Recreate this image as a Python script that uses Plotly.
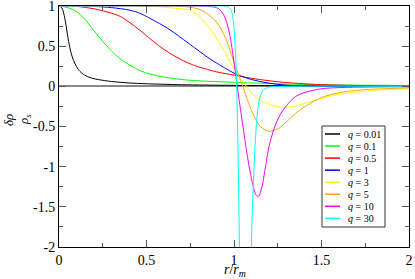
import plotly.graph_objects as go

# ---------------- data ----------------
q_labels = ["0.01", "0.1", "0.5", "1", "3", "5", "10", "30"]
colors = ["#000000", "#00ff00", "#ff0000", "#0000ff", "#ffff00", "#ffa500", "#ff00ff", "#00ffff"]

x_q001 = [0, 0.01, 0.02, 0.03, 0.04, 0.05, 0.06, 0.07, 0.08, 0.1, 0.12, 0.14, 0.17, 0.2, 0.25, 0.3, 0.4, 0.5, 0.7, 1.0, 1.5, 2.0]
y_q001 = [1.0, 0.99, 0.96, 0.88, 0.76, 0.62, 0.50, 0.41, 0.34, 0.245, 0.185, 0.148, 0.115, 0.095, 0.075, 0.06, 0.042, 0.032, 0.02, 0.012, 0.006, 0.004]

x_q01 = [0, 0.05, 0.1, 0.15, 0.2, 0.25, 0.3, 0.35, 0.4, 0.45, 0.5, 0.6, 0.7, 0.8, 1.0, 1.2, 1.5, 2.0]
y_q01 = [1.0, 0.98, 0.93, 0.83, 0.69, 0.56, 0.44, 0.34, 0.27, 0.21, 0.165, 0.115, 0.085, 0.068, 0.05, 0.035, 0.02, 0.01]

x_q05 = [0, 0.1, 0.2, 0.3, 0.35, 0.4, 0.45, 0.5, 0.55, 0.6, 0.65, 0.7, 0.75, 0.8, 0.85, 0.9, 1.0, 1.1, 1.2, 1.3, 1.5, 1.75, 2.0]
y_q05 = [1.0, 0.995, 0.965, 0.91, 0.87, 0.80, 0.72, 0.63, 0.54, 0.46, 0.39, 0.33, 0.28, 0.24, 0.21, 0.18, 0.14, 0.10, 0.07, 0.047, 0.021, 0.008, 0.004]

x_q1 = [0, 0.1, 0.2, 0.3, 0.4, 0.45, 0.5, 0.55, 0.6, 0.65, 0.7, 0.75, 0.8, 0.85, 0.9, 0.95, 1.0, 1.05, 1.1, 1.2, 1.3, 1.5, 1.75, 2.0]
y_q1 = [1.0, 1.0, 0.995, 0.98, 0.95, 0.92, 0.87, 0.81, 0.75, 0.68, 0.60, 0.52, 0.44, 0.36, 0.29, 0.225, 0.165, 0.12, 0.085, 0.04, 0.015, 0.0, -0.003, -0.002]

x_q3 = [0, 0.3, 0.5, 0.6, 0.65, 0.7, 0.75, 0.8, 0.85, 0.9, 0.95, 1.0, 1.05, 1.1, 1.15, 1.2, 1.25, 1.3, 1.35, 1.4, 1.5, 1.6, 1.7, 1.8, 2.0]
y_q3 = [1.0, 1.0, 0.995, 0.985, 0.975, 0.965, 0.95, 0.87, 0.75, 0.60, 0.42, 0.22, 0.06, -0.08, -0.17, -0.225, -0.252, -0.26, -0.245, -0.215, -0.15, -0.10, -0.07, -0.05, -0.03]

x_q5 = [0, 0.5, 0.7, 0.75, 0.8, 0.85, 0.9, 0.95, 1.0, 1.05, 1.1, 1.15, 1.2, 1.25, 1.3, 1.35, 1.4, 1.5, 1.6, 1.7, 1.8, 2.0]
y_q5 = [1.0, 1.0, 0.995, 0.985, 0.96, 0.90, 0.80, 0.61, 0.30, 0.0, -0.30, -0.50, -0.56, -0.53, -0.44, -0.34, -0.26, -0.14, -0.08, -0.05, -0.035, -0.02]

x_q10 = [0, 0.7, 0.85, 0.9, 0.925, 0.95, 0.975, 1.0, 1.025, 1.05, 1.075, 1.1, 1.125, 1.14, 1.16, 1.18, 1.2, 1.23, 1.26, 1.3, 1.35, 1.4, 1.5, 1.7, 2.0]
y_q10 = [1.0, 1.0, 0.995, 0.98, 0.94, 0.85, 0.65, 0.30, -0.10, -0.48, -0.85, -1.15, -1.35, -1.37, -1.25, -1.0, -0.75, -0.52, -0.37, -0.24, -0.13, -0.08, -0.03, -0.01, -0.005]

x_q30 = [0, 0.9, 0.96, 0.98, 0.99, 1.0, 1.01, 1.02, 1.03, 1.035, 1.05, 1.07, 1.09, 1.1, 1.11, 1.12, 1.13, 1.14, 1.15, 1.17, 1.2, 1.3, 2.0]
y_q30 = [1.0, 1.0, 0.995, 0.96, 0.9, 0.72, 0.35, -0.45, -1.8, -2.5, -3.8, -4.2, -3.0, -1.9, -1.25, -0.76, -0.42, -0.22, -0.12, -0.04, -0.01, 0.0, 0.0]

series_x = [x_q001, x_q01, x_q05, x_q1, x_q3, x_q5, x_q10, x_q30]
series_y = [y_q001, y_q01, y_q05, y_q1, y_q3, y_q5, y_q10, y_q30]

x_tickvals = [0, 0.5, 1, 1.5, 2]
x_ticktext = ["0", "0.5", "1", "1.5", "2"]
y_tickvals = [-2, -1.5, -1, -0.5, 0, 0.5, 1]
y_ticktext = ["-2", "-1.5", "-1", "-0.5", "0", "0.5", "1"]

# ---------------- figure ----------------
FONT = "Liberation Serif"
fig = go.Figure()
for xs, ys, c, q in zip(series_x, series_y, colors, q_labels):
    fig.add_trace(go.Scatter(x=xs, y=ys, mode="lines", name="q = " + q,
                             line=dict(color=c, width=1, shape="spline", smoothing=0.8),
                             showlegend=False))

W, H = 415, 279
ml, mr, mt, mb = 59, 6, 6, 32
pw, ph = W - ml - mr, H - mt - mb

def px2paper_x(px):
    return (px - ml) / pw

def px2paper_y(py):
    return (H - mb - py) / ph

# manual legend (compact like the original)
shapes = [dict(type="rect", xref="paper", yref="paper",
               x0=px2paper_x(322), x1=px2paper_x(385),
               y0=px2paper_y(227), y1=px2paper_y(126),
               line=dict(color="#333333", width=1), fillcolor="white", layer="above")]
annotations = []
for i, (c, q) in enumerate(zip(colors, q_labels)):
    yy = 134 + 12.05 * i
    shapes.append(dict(type="line", xref="paper", yref="paper",
                       x0=px2paper_x(325), x1=px2paper_x(340),
                       y0=px2paper_y(yy), y1=px2paper_y(yy),
                       line=dict(color=c, width=1.5), layer="above"))
    annotations.append(dict(xref="paper", yref="paper", x=px2paper_x(346), y=px2paper_y(yy),
                            xanchor="left", yanchor="middle", showarrow=False,
                            text="<i>q</i> = " + q,
                            font=dict(family=FONT, size=10, color="black")))

# axis titles
annotations.append(dict(xref="paper", yref="paper", x=px2paper_x(235), y=px2paper_y(270),
                        xanchor="center", yanchor="middle", showarrow=False,
                        text="<i>r</i>/<i>r</i><sub><i>m</i></sub>",
                        font=dict(family=FONT, size=14, color="black")))
annotations.append(dict(xref="paper", yref="paper", x=px2paper_x(8), y=px2paper_y(120),
                        xanchor="center", yanchor="middle", showarrow=False, textangle=-90,
                        text="<i>δρ</i>",
                        font=dict(family=FONT, size=13, color="black")))
annotations.append(dict(xref="paper", yref="paper", x=px2paper_x(24), y=px2paper_y(120),
                        xanchor="center", yanchor="middle", showarrow=False, textangle=-90,
                        text="<i>ρ</i><sub><i>s</i></sub>",
                        font=dict(family=FONT, size=13, color="black")))

fig.update_layout(
    width=W, height=H,
    margin=dict(l=ml, r=mr, t=mt, b=mb, pad=0, autoexpand=False),
    paper_bgcolor="white", plot_bgcolor="white",
    font=dict(family=FONT, size=14, color="black"),
    shapes=shapes, annotations=annotations,
    showlegend=False,
)
fig.update_xaxes(range=[0, 2], tickvals=x_tickvals, ticktext=x_ticktext, automargin=False,
                 ticklabeloverflow="allow",
                 showline=True, linecolor="black", linewidth=1, mirror="ticks",
                 ticks="inside", ticklen=7, tickcolor="#555555", tickwidth=1,
                 minor=dict(dtick=0.25, ticks="inside", ticklen=4, tickcolor="#555555", showgrid=False),
                 showgrid=False, zeroline=False,
                 tickfont=dict(family=FONT, size=14))
fig.update_yaxes(range=[-2, 1], tickvals=y_tickvals, ticktext=y_ticktext, automargin=False,
                 ticklabeloverflow="allow",
                 showline=True, linecolor="black", linewidth=1, mirror="ticks",
                 ticks="inside", ticklen=7, tickcolor="#555555", tickwidth=1,
                 minor=dict(dtick=0.25, ticks="inside", ticklen=4, tickcolor="#555555", showgrid=False),
                 showgrid=False, zeroline=True, zerolinecolor="#888888", zerolinewidth=2,
                 tickfont=dict(family=FONT, size=14))

fig.write_html("out.html", config={"displayModeBar": False},
               post_script="document.body.style.margin='0';document.body.style.padding='0';")
